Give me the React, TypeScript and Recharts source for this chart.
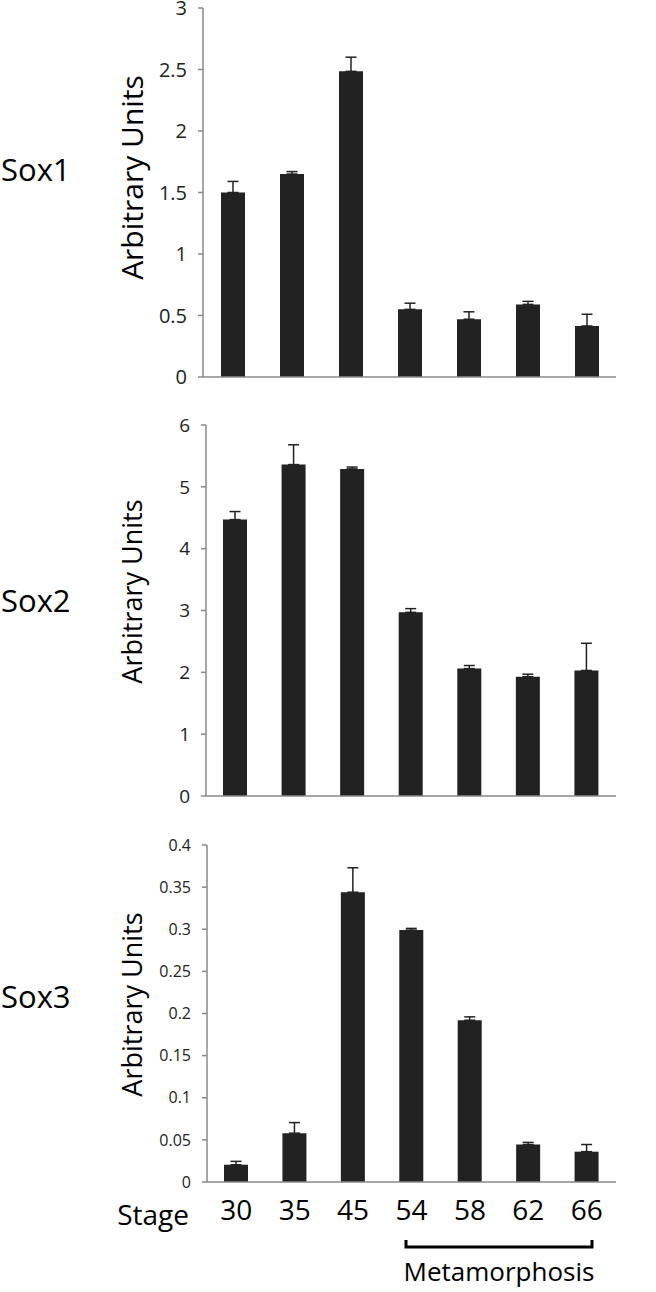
import React from 'react';
import { BarChart, Bar, XAxis, YAxis, ErrorBar } from 'recharts';

const stages = ['30', '35', '45', '54', '58', '62', '66'];

const sox1Values = [1.5, 1.65, 2.485, 0.55, 0.47, 0.59, 0.415];
const sox1Err = [0.09, 0.02, 0.115, 0.05, 0.06, 0.025, 0.095];

const sox2Values = [4.47, 5.36, 5.29, 2.97, 2.06, 1.93, 2.03];
const sox2Err = [0.13, 0.32, 0.03, 0.06, 0.05, 0.04, 0.44];

const sox3Values = [0.0205, 0.058, 0.344, 0.299, 0.192, 0.0445, 0.036];
const sox3Err = [0.004, 0.0125, 0.029, 0.002, 0.004, 0.0025, 0.0085];

const sox1Ticks = [0, 0.5, 1, 1.5, 2, 2.5, 3];
const sox2Ticks = [0, 1, 2, 3, 4, 5, 6];
const sox3Ticks = [0, 0.05, 0.1, 0.15, 0.2, 0.25, 0.3, 0.35, 0.4];
const boundaryTicks = [0, 1, 2, 3, 4, 5, 6, 7];

const FONT = '"Open Sans", sans-serif';
const AXIS = '#8a8a8a';
const BAR = '#222222';
const PAD = 20;

const rows = (values: number[], errs: number[]) =>
  stages.map((s, i) => ({ stage: s, value: values[i], err: [0, errs[i]] }));

interface PanelProps {
  data: any[];
  plotTop: number;
  plotBottom: number;
  axisX: number;
  ticks: number[];
  tickFont: number;
  labelFont: number;
  labelDy: number;
  showStages?: boolean;
}

const Panel: React.FC<PanelProps> = ({
  data, plotTop, plotBottom, axisX, ticks, tickFont, labelFont, labelDy, showStages,
}) => {
  // chart box starts PAD px above the plot so the top tick label is not clipped
  const below = showStages ? 8 + 50 : 10 + 3;
  const height = plotBottom - plotTop + PAD + below;
  return (
    <div style={{ position: 'absolute', left: 0, top: plotTop - PAD }}>
      <BarChart
        width={656}
        height={height}
        data={data}
        margin={{ top: PAD, right: 40, left: 0, bottom: showStages ? 0 : 3 }}
      >
        <XAxis
          xAxisId="b_cat"
          dataKey="stage"
          type="category"
          hide={!showStages}
          height={50}
          axisLine={false}
          tickLine={false}
          tickSize={0}
          tickMargin={10}
          tick={{ fontSize: 28, fill: '#000', fontFamily: FONT }}
          label={{ value: 'Stage', position: 'left', offset: 18, fontSize: 28, fill: '#000', fontFamily: FONT }}
        />
        <XAxis
          xAxisId="a_num"
          type="number"
          domain={[0, 7]}
          ticks={boundaryTicks}
          allowDataOverflow
          tick={false}
          tickSize={6}
          height={showStages ? 8 : 10}
          axisLine={{ stroke: AXIS, strokeWidth: 1.5 }}
          tickLine={{ stroke: AXIS, strokeWidth: 1.5 }}
        />
        <YAxis
          width={axisX}
          domain={[ticks[0], ticks[ticks.length - 1]]}
          ticks={ticks}
          allowDataOverflow
          interval={0}
          tickSize={5}
          tickMargin={11}
          tick={{ fontSize: tickFont, fill: '#222', fontFamily: FONT }}
          axisLine={{ stroke: AXIS, strokeWidth: 1.5 }}
          tickLine={{ stroke: AXIS, strokeWidth: 1.5 }}
          label={{
            value: 'Arbitrary Units',
            angle: -90,
            position: 'center',
            dx: 132 - axisX / 2,
            dy: labelDy,
            fontSize: labelFont,
            fill: '#000',
            fontFamily: FONT,
          }}
        />
        <Bar dataKey="value" xAxisId="b_cat" fill={BAR} barSize={24} isAnimationActive={false}>
          <ErrorBar dataKey="err" width={5.5} stroke={BAR} strokeWidth={1.5} direction="y" />
        </Bar>
      </BarChart>
    </div>
  );
};

export default function App() {
  return (
    <div style={{ position: 'absolute', left: 0, top: 0, width: 656, height: 1292, overflow: 'hidden', background: '#fff', fontFamily: FONT }}>
      <Panel data={rows(sox1Values, sox1Err)} plotTop={8} plotBottom={377} axisX={203}
        ticks={sox1Ticks} tickFont={20} labelFont={30} labelDy={-15} />
      <Panel data={rows(sox2Values, sox2Err)} plotTop={425} plotBottom={796} axisX={206}
        ticks={sox2Ticks} tickFont={19} labelFont={27} labelDy={-19} />
      <Panel data={rows(sox3Values, sox3Err)} plotTop={845} plotBottom={1182} axisX={207}
        ticks={sox3Ticks} tickFont={16} labelFont={27} labelDy={-9} showStages />
      <svg width={656} height={1292} style={{ position: 'absolute', left: 0, top: 0, pointerEvents: 'none' }}>
        <text x={1} y={181} fontSize={31} fontFamily={FONT} fill="#000">Sox1</text>
        <text x={1} y={612} fontSize={31} fontFamily={FONT} fill="#000">Sox2</text>
        <text x={1} y={1008} fontSize={31} fontFamily={FONT} fill="#000">Sox3</text>
        <path d="M406,1240 V1247 H592 V1240" fill="none" stroke="#000" strokeWidth={3} />
        <text x={499} y={1281} fontSize={26} fontFamily={FONT} fill="#000" textAnchor="middle">Metamorphosis</text>
      </svg>
    </div>
  );
}
